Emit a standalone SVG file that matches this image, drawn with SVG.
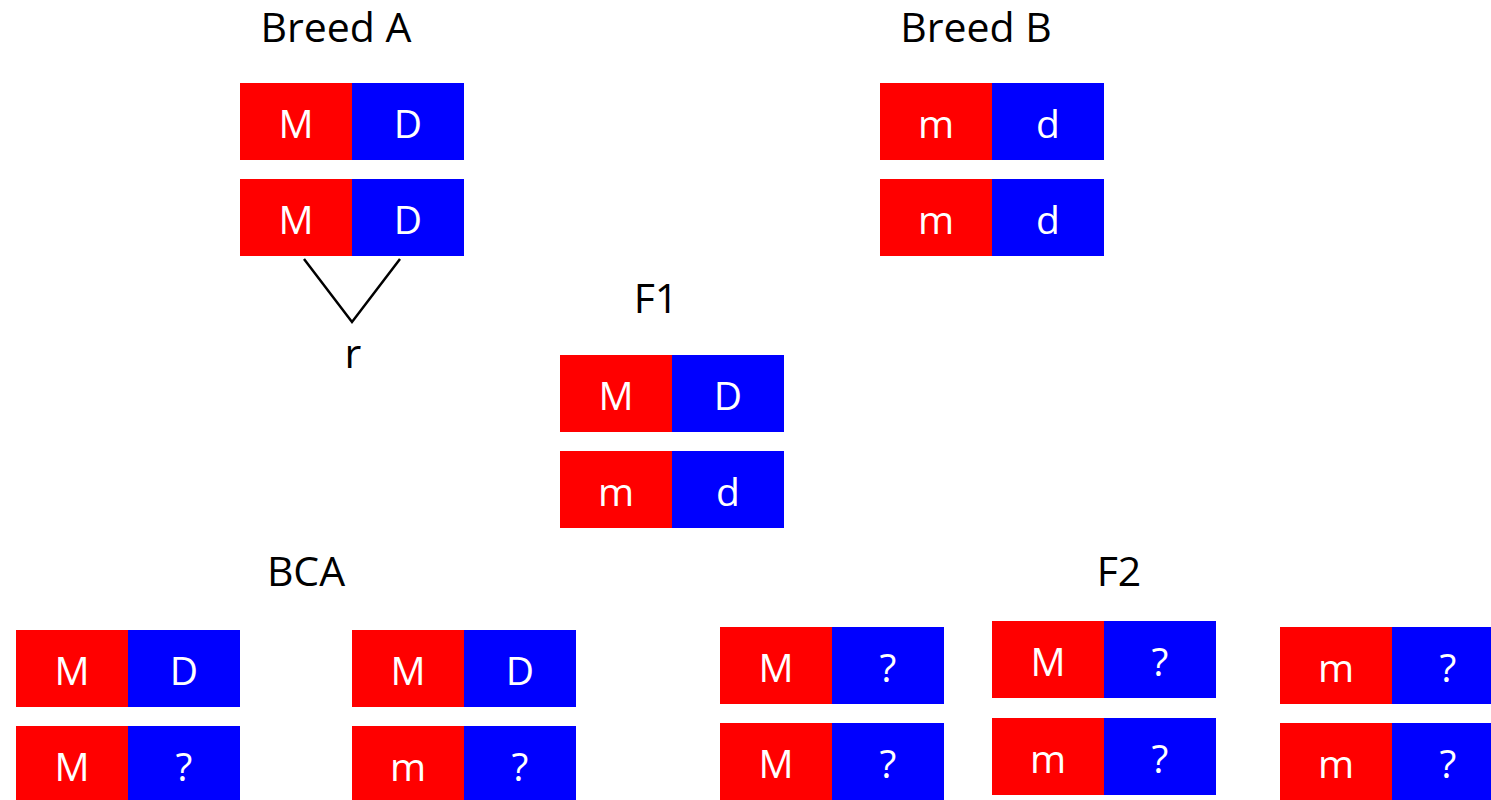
<svg xmlns="http://www.w3.org/2000/svg" width="1491" height="800" viewBox="0 0 1491 800">
  <style>
    .m { fill: #ff0000; }
    .d { fill: #0000ff; }
    .al { font-family: "Open Sans", "Liberation Sans", sans-serif; font-size: 39px; fill: #ffffff; text-anchor: middle; }
    .title { font-family: "Open Sans", "Liberation Sans", sans-serif; font-size: 41px; fill: #000000; text-anchor: middle; }
    .link { stroke: #000000; stroke-width: 2.5; fill: none; }
  </style>
  <defs>
    <!-- one chromosome: red maternal segment, blue segment, 224 x 77 -->
    <g id="chrom">
      <rect class="m" x="0" y="0" width="112" height="77"/>
      <rect class="d" x="112" y="0" width="112" height="77"/>
    </g>
  </defs>
  <rect width="1491" height="800" fill="#ffffff"/>

  <!-- population labels -->
  <g id="labels">
    <text class="title" x="336" y="42">Breed A</text>
    <text class="title" x="976" y="42">Breed B</text>
    <text class="title" x="656" y="313">F1</text>
    <text class="title" x="306" y="586">BCA</text>
    <text class="title" x="1119" y="586">F2</text>
  </g>

  <!-- recombination marker -->
  <g id="connectors">
    <polyline class="link" points="304,259 352,322 400,259"/>
    <text class="title" x="353" y="368">r</text>
  </g>

  <g id="breedA-1">
    <use href="#chrom" x="240" y="83"/>
    <text class="al" x="296" y="138">M</text><text class="al" x="408" y="138">D</text>
  </g>
  <g id="breedA-2">
    <use href="#chrom" x="240" y="179"/>
    <text class="al" x="296" y="234">M</text><text class="al" x="408" y="234">D</text>
  </g>

  <g id="breedB-1">
    <use href="#chrom" x="880" y="83"/>
    <text class="al" x="936" y="138">m</text><text class="al" x="1048" y="138">d</text>
  </g>
  <g id="breedB-2">
    <use href="#chrom" x="880" y="179"/>
    <text class="al" x="936" y="234">m</text><text class="al" x="1048" y="234">d</text>
  </g>

  <g id="f1-1">
    <use href="#chrom" x="560" y="355"/>
    <text class="al" x="616" y="410">M</text><text class="al" x="728" y="410">D</text>
  </g>
  <g id="f1-2">
    <use href="#chrom" x="560" y="451"/>
    <text class="al" x="616" y="506">m</text><text class="al" x="728" y="506">d</text>
  </g>

  <g id="bca-a1">
    <use href="#chrom" x="16" y="630"/>
    <text class="al" x="72" y="685">M</text><text class="al" x="184" y="685">D</text>
  </g>
  <g id="bca-a2">
    <use href="#chrom" x="16" y="726"/>
    <text class="al" x="72" y="781">M</text><text class="al" x="184" y="781">?</text>
  </g>
  <g id="bca-b1">
    <use href="#chrom" x="352" y="630"/>
    <text class="al" x="408" y="685">M</text><text class="al" x="520" y="685">D</text>
  </g>
  <g id="bca-b2">
    <use href="#chrom" x="352" y="726"/>
    <text class="al" x="408" y="781">m</text><text class="al" x="520" y="781">?</text>
  </g>

  <g id="f2-a1">
    <use href="#chrom" x="720" y="627"/>
    <text class="al" x="776" y="682">M</text><text class="al" x="888" y="682">?</text>
  </g>
  <g id="f2-a2">
    <use href="#chrom" x="720" y="723"/>
    <text class="al" x="776" y="778">M</text><text class="al" x="888" y="778">?</text>
  </g>
  <g id="f2-b1">
    <use href="#chrom" x="992" y="621"/>
    <text class="al" x="1048" y="676">M</text><text class="al" x="1160" y="676">?</text>
  </g>
  <g id="f2-b2">
    <use href="#chrom" x="992" y="718"/>
    <text class="al" x="1048" y="773">m</text><text class="al" x="1160" y="773">?</text>
  </g>
  <g id="f2-c1">
    <use href="#chrom" x="1280" y="627"/>
    <text class="al" x="1336" y="682">m</text><text class="al" x="1448" y="682">?</text>
  </g>
  <g id="f2-c2">
    <use href="#chrom" x="1280" y="723"/>
    <text class="al" x="1336" y="778">m</text><text class="al" x="1448" y="778">?</text>
  </g>
</svg>
